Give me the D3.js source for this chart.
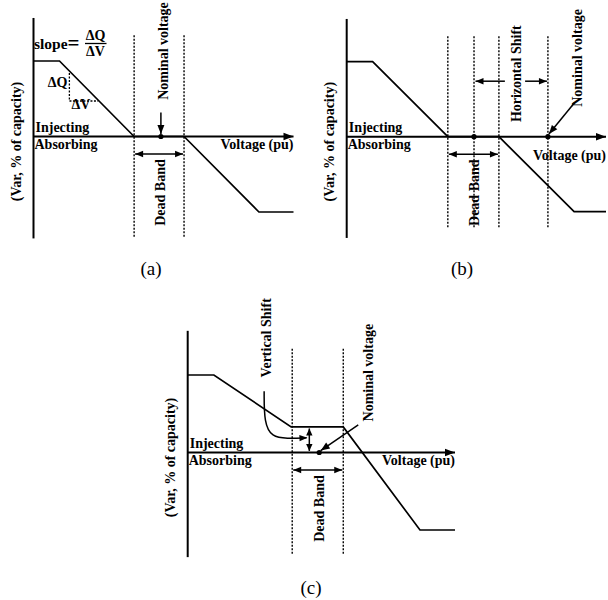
<!DOCTYPE html>
<html><head><meta charset="utf-8">
<script src="https://cdn.jsdelivr.net/npm/d3@7"></script>
<style>
body{margin:0;background:#fff}
text{font-family:"Liberation Serif","Times New Roman",serif;fill:#000}
</style>
</head><body>
<svg id="chart" width="608" height="600"></svg>
<script>
// ---------- DATA (V: % of drawn voltage span, Q: % of capacity) ----------
const curveA = [[0,100],[10,100],[38.7,0],[57.9,0],[86.7,-100],[100,-100]];
const deadBandA = [38.7, 57.9];
const nominalA = 49;
const slopeTriangleA = [[13.8,84],[13.8,47],[24.9,47]];

const curveB = [[0,100],[10,100],[39,0],[58.7,0],[87.7,-100],[100,-100]];
const deadBandB = [39, 58.7];
const deadBandCenterB = 49.1;
const nominalB = 77.6;

const curveC = [[0,100],[9.8,100],[38.7,33],[58.2,33],[86.9,-100],[100,-100]];
const deadBandC = [39.1, 58.2];
const nominalC = 49.2;
const verticalShiftC = [2, 31];

const axisQExtent = [-135, 157];
const guideTopQ = 134;
const panelLabels = ["(a)", "(b)", "(c)"];
const yAxisTitle = "(Var, % of capacity)";
const xAxisTitle = "Voltage (pu)";
const injectLabel = "Injecting";
const absorbLabel = "Absorbing";
const deadBandLabel = "Dead Band";
const nominalLabel = "Nominal voltage";
const hShiftLabel = "Horizontal Shift";
const vShiftLabel = "Vertical Shift";

// ---------- DRAWING ----------
const svg = d3.select("#chart");
const FS = 14;

function head(g, x1, y1, x2, y2, len, hw) {
  const a = Math.atan2(y2 - y1, x2 - x1);
  const bx = x2 - len * Math.cos(a), by = y2 - len * Math.sin(a);
  const px = -Math.sin(a) * hw, py = Math.cos(a) * hw;
  g.append("path")
    .attr("d", `M${x2},${y2}L${bx + px},${by + py}L${bx - px},${by - py}Z`)
    .attr("fill", "#000");
}
function arrow(g, p1, p2, o = {}) {
  const {start = false, end = true, len = 8, hw = 3.2, w = 1.5} = o;
  g.append("line").attr("x1", p1[0]).attr("y1", p1[1]).attr("x2", p2[0]).attr("y2", p2[1])
    .attr("stroke", "#000").attr("stroke-width", w);
  if (end) head(g, p1[0], p1[1], p2[0], p2[1], len, hw);
  if (start) head(g, p2[0], p2[1], p1[0], p1[1], len, hw);
}
function vtext(g, x, y, str, size = FS) {
  return g.append("text")
    .attr("transform", `translate(${x},${y}) rotate(-90)`)
    .attr("text-anchor", "middle").attr("dominant-baseline", "central")
    .attr("font-size", size).attr("font-weight", "bold").text(str);
}
function htext(g, x, y, str, anchor = "start", size = FS) {
  return g.append("text").attr("x", x).attr("y", y).attr("text-anchor", anchor)
    .attr("font-size", size).attr("font-weight", "bold").text(str);
}
function makeScales(xr, yr) {
  return {
    x: d3.scaleLinear().domain([0, 100]).range(xr),
    y: d3.scaleLinear().domain([-100, 100]).range(yr)
  };
}

function drawBase(g, s, curve, voltLabelDy) {
  const x0 = s.x(0), y0 = s.y(0);
  g.append("line").attr("x1", x0).attr("x2", x0)
    .attr("y1", s.y(axisQExtent[1])).attr("y2", s.y(axisQExtent[0]))
    .attr("stroke", "#000").attr("stroke-width", 2);
  arrow(g, [x0, y0], [s.x(100), y0], {len: 10, hw: 3.8, w: 2});
  const line = d3.line().x(d => s.x(d[0])).y(d => s.y(d[1]));
  g.append("path").datum(curve).attr("d", line)
    .attr("fill", "none").attr("stroke", "#000").attr("stroke-width", 1.7);
  htext(g, x0 + 2, y0 - 5, injectLabel);
  htext(g, x0 + 1, y0 + 12, absorbLabel);
  htext(g, s.x(100), y0 + voltLabelDy, xAxisTitle, "end");
  vtext(g, x0 - 17, y0 + 5, yAxisTitle);
}
function guide(g, s, v, bottomQ) {
  g.append("line").attr("x1", s.x(v)).attr("x2", s.x(v))
    .attr("y1", s.y(guideTopQ)).attr("y2", s.y(bottomQ))
    .attr("stroke", "#000").attr("stroke-width", 1.4).attr("stroke-dasharray", "2,1.5");
}
function dot(g, s, v, q) {
  g.append("circle").attr("cx", s.x(v)).attr("cy", s.y(q)).attr("r", 2.6).attr("fill", "#000");
}
function deadBandArrow(g, s, band, labelV) {
  const y = s.y(0) + 17.5;
  arrow(g, [s.x(band[0]) + 1, y], [s.x(band[1]) - 1, y], {start: true, end: true, len: 8, hw: 3.3});
  vtext(g, s.x(labelV), s.y(0) + 56, deadBandLabel);
}

// ---------- Panel (a) ----------
{
  const s = makeScales([33.5, 293.5], [212, 61]);
  const g = svg.append("g");
  deadBandA.forEach(v => guide(g, s, v, -134));
  drawBase(g, s, curveA, 12);
  dot(g, s, nominalA, 0);
  arrow(g, [s.x(nominalA), s.y(0) - 24], [s.x(nominalA), s.y(0) - 2.5], {len: 9, hw: 3.5});
  vtext(g, s.x(nominalA) + 3, 51, nominalLabel);
  deadBandArrow(g, s, deadBandA, nominalA);
  const line = d3.line().x(d => s.x(d[0])).y(d => s.y(d[1]));
  g.append("path").datum(slopeTriangleA).attr("d", line).attr("fill", "none")
    .attr("stroke", "#000").attr("stroke-width", 1.3).attr("stroke-dasharray", "2,1.5");
  htext(g, s.x(slopeTriangleA[0][0]) - 2, s.y(66), "\u0394Q", "end");
  htext(g, s.x(slopeTriangleA[1][0]) + 2, s.y(47) + 8, "\u0394V", "start");
  const t = htext(g, 34, 49, "slope", "start", 15.5);
  t.append("tspan").attr("font-size", 21).attr("dy", 1).text("=");
  const fx = 95.5;
  htext(g, fx, 40, "\u0394Q", "middle");
  g.append("line").attr("x1", 85).attr("x2", 106.5).attr("y1", 43.5).attr("y2", 43.5)
    .attr("stroke", "#000").attr("stroke-width", 1.3);
  htext(g, fx, 56, "\u0394V", "middle");
  g.append("text").attr("x", 151).attr("y", 275).attr("text-anchor", "middle")
    .attr("font-size", 19).text(panelLabels[0]);
}

// ---------- Panel (b) ----------
{
  const s = makeScales([346.7, 606], [211.7, 61.7]);
  const g = svg.append("g");
  [deadBandB[0], deadBandCenterB, deadBandB[1], nominalB].forEach(v => guide(g, s, v, -122));
  drawBase(g, s, curveB, 23);
  dot(g, s, deadBandCenterB, 0);
  dot(g, s, nominalB, 0);
  deadBandArrow(g, s, deadBandB, deadBandCenterB);
  const ya = s.y(74);
  arrow(g, [s.x(61), ya], [s.x(deadBandCenterB) + 1.5, ya], {len: 8, hw: 3.2});
  arrow(g, [s.x(68.8), ya], [s.x(nominalB) - 1, ya], {len: 8, hw: 3.2});
  vtext(g, s.x(65.6), s.y(84), hShiftLabel);
  arrow(g, [s.x(88), s.y(46)], [s.x(nominalB) + 1, s.y(3.5)], {len: 9, hw: 3.5});
  vtext(g, s.x(89.2), s.y(105), nominalLabel);
  g.append("text").attr("x", 462).attr("y", 275).attr("text-anchor", "middle")
    .attr("font-size", 19).text(panelLabels[1]);
}

// ---------- Panel (c) ----------
{
  const s = makeScales([187.7, 455], [530, 375]);
  const g = svg.append("g");
  deadBandC.forEach(v => guide(g, s, v, -132));
  drawBase(g, s, curveC, 12);
  dot(g, s, nominalC, 0);
  deadBandArrow(g, s, deadBandC, nominalC);
  const xv = s.x(45.5);
  arrow(g, [xv, s.y(verticalShiftC[0])], [xv, s.y(verticalShiftC[1])], {start: true, end: true, len: 7, hw: 3.2});
  const pts = [[28.6, 79], [28.6, 38], [31.5, 20], [37, 18], [44.5, 19]];
  const cl = d3.line().x(d => s.x(d[0])).y(d => s.y(d[1])).curve(d3.curveBasis);
  g.append("path").datum(pts).attr("d", cl).attr("fill", "none")
    .attr("stroke", "#000").attr("stroke-width", 1.5);
  head(g, s.x(40), s.y(18.3), s.x(44.8), s.y(19), 8, 3.2);
  vtext(g, s.x(29.6), s.y(148), vShiftLabel);
  arrow(g, [s.x(63.8), s.y(35.5)], [s.x(nominalC) + 1.5, s.y(2.5)], {len: 9, hw: 3.5});
  vtext(g, s.x(67.5), s.y(103), nominalLabel);
  g.append("text").attr("x", 311).attr("y", 594).attr("text-anchor", "middle")
    .attr("font-size", 19).text(panelLabels[2]);
}
</script>
</body></html>
